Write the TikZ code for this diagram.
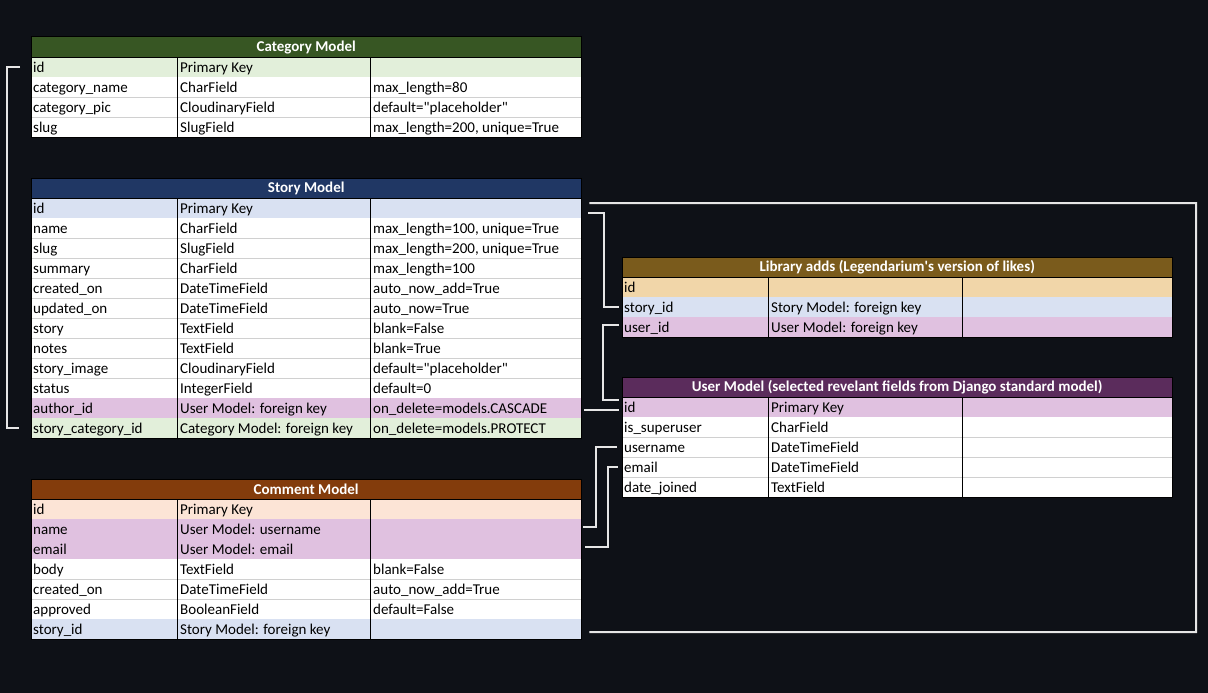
\documentclass[tikz,border=0pt]{standalone}
\usepackage{fontspec}
\setmainfont{Carlito}
\usepackage{tikz}
\usetikzlibrary{calc, positioning}

\definecolor{bg}{HTML}{0E1117}
\definecolor{linkwhite}{HTML}{E6E6E6}
\definecolor{gridgray}{HTML}{D0D0D0}
\definecolor{catdark}{HTML}{375623}
\definecolor{catlight}{HTML}{E2EFDA}
\definecolor{stdark}{HTML}{203764}
\definecolor{stlight}{HTML}{D9E1F2}
\definecolor{cmdark}{HTML}{833C0C}
\definecolor{cmlight}{HTML}{FCE4D6}
\definecolor{libdark}{HTML}{7A5B1C}
\definecolor{liblight}{HTML}{F1D6A9}
\definecolor{usdark}{HTML}{5B2C5C}
\definecolor{purp}{HTML}{E0C1E0}

\tikzset{
    head/.style={anchor=north west, minimum width=550pt, minimum height=20pt, inner sep=0pt,
        text=white, font=\fontsize{15}{17}\selectfont\bfseries},
    row/.style={anchor=north west, minimum width=550pt, minimum height=20pt, inner sep=0pt},
    cell/.style={anchor=base west, inner sep=0pt, font=\fontsize{15}{17}\selectfont},
    frame/.style={draw=black, line width=1pt},
    gridline/.style={draw=gridgray, line width=.8pt},
    link/.style={draw=linkwhite, line width=2pt},
}

\begin{document}
\begin{tikzpicture}[x=1pt, y=-1pt]
    % 背景
    \fill[bg] (0,0) rectangle (1208,693);

    % Category Model
    \node[head, fill=catdark] (cat) at (31,37) {Category Model};
    \foreach \key/\col/\ta/\tb/\tc [count=\i from 0] in {
        id/catlight/id/Primary Key/{},
        name/white/category\_name/CharField/max\_length=80,
        pic/white/category\_pic/CloudinaryField/default=\textquotedbl placeholder\textquotedbl{},
        slug/white/slug/SlugField/{max\_length=200, unique=True}} {
        \node[row, fill=\col] (cat-\key) at (31,57+20*\i) {};
        \node[cell] (cat-\key-a) at ($(cat-\key.south west)+(2,-5)$) {\ta};
        \node[cell] (cat-\key-b) at ($(cat-\key.south west)+(149,-5)$) {\tb};
        \node[cell] (cat-\key-c) at ($(cat-\key.south west)+(342,-5)$) {\tc};
    }
    \foreach \key in {name,pic} {
        \draw[gridline] (cat-\key.south west) -- (cat-\key.south east);
    }
    \draw[frame] (cat.north west) rectangle (cat-slug.south east);
    \draw[frame] (cat.south west) -- (cat.south east);
    \foreach \dx in {146,339} {
        \draw[frame] ([xshift=\dx]cat.south west) -- ([xshift=\dx]cat-slug.south west);
    }

    % Story Model
    \node[head, fill=stdark] (st) at (31,178) {Story Model};
    \foreach \key/\col/\ta/\tb/\tc [count=\i from 0] in {
        id/stlight/id/Primary Key/{},
        name/white/name/CharField/{max\_length=100, unique=True},
        slug/white/slug/SlugField/{max\_length=200, unique=True},
        summary/white/summary/CharField/max\_length=100,
        created/white/created\_on/DateTimeField/auto\_now\_add=True,
        updated/white/updated\_on/DateTimeField/auto\_now=True,
        story/white/story/TextField/blank=False,
        notes/white/notes/TextField/blank=True,
        image/white/story\_image/CloudinaryField/default=\textquotedbl placeholder\textquotedbl{},
        status/white/status/IntegerField/default=0,
        author/purp/author\_id/User Model: foreign key/on\_delete=models.CASCADE,
        catid/catlight/story\_category\_id/Category Model: foreign key/on\_delete=models.PROTECT} {
        \node[row, fill=\col] (st-\key) at (31,198+20*\i) {};
        \node[cell] (st-\key-a) at ($(st-\key.south west)+(2,-5)$) {\ta};
        \node[cell] (st-\key-b) at ($(st-\key.south west)+(149,-5)$) {\tb};
        \node[cell] (st-\key-c) at ($(st-\key.south west)+(342,-5)$) {\tc};
    }
    \foreach \key in {name,slug,summary,created,updated,story,notes,image} {
        \draw[gridline] (st-\key.south west) -- (st-\key.south east);
    }
    \draw[frame] (st.north west) rectangle (st-catid.south east);
    \draw[frame] (st.south west) -- (st.south east);
    \foreach \dx in {146,339} {
        \draw[frame] ([xshift=\dx]st.south west) -- ([xshift=\dx]st-catid.south west);
    }

    % Comment Model
    \node[head, fill=cmdark] (cm) at (31,479) {Comment Model};
    \foreach \key/\col/\ta/\tb/\tc [count=\i from 0] in {
        id/cmlight/id/Primary Key/{},
        name/purp/name/User Model: username/{},
        email/purp/email/User Model: email/{},
        body/white/body/TextField/blank=False,
        created/white/created\_on/DateTimeField/auto\_now\_add=True,
        approved/white/approved/BooleanField/default=False,
        story/stlight/story\_id/Story Model: foreign key/{}} {
        \node[row, fill=\col] (cm-\key) at (31,499+20*\i) {};
        \node[cell] (cm-\key-a) at ($(cm-\key.south west)+(2,-5)$) {\ta};
        \node[cell] (cm-\key-b) at ($(cm-\key.south west)+(149,-5)$) {\tb};
        \node[cell] (cm-\key-c) at ($(cm-\key.south west)+(342,-5)$) {\tc};
    }
    \foreach \key in {body,created} {
        \draw[gridline] (cm-\key.south west) -- (cm-\key.south east);
    }
    \draw[frame] (cm.north west) rectangle (cm-story.south east);
    \draw[frame] (cm.south west) -- (cm.south east);
    \foreach \dx in {146,339} {
        \draw[frame] ([xshift=\dx]cm.south west) -- ([xshift=\dx]cm-story.south west);
    }

    % Library adds
    \node[head, fill=libdark] (lib) at (622,257) {Library adds (Legendarium\textquotesingle s version of likes)};
    \foreach \key/\col/\ta/\tb/\tc [count=\i from 0] in {
        id/liblight/id/{}/{},
        story/stlight/story\_id/Story Model: foreign key/{},
        user/purp/user\_id/User Model: foreign key/{}} {
        \node[row, fill=\col] (lib-\key) at (622,277+20*\i) {};
        \node[cell] (lib-\key-a) at ($(lib-\key.south west)+(2,-5)$) {\ta};
        \node[cell] (lib-\key-b) at ($(lib-\key.south west)+(149,-5)$) {\tb};
        \node[cell] (lib-\key-c) at ($(lib-\key.south west)+(343,-5)$) {\tc};
    }
    \draw[frame] (lib.north west) rectangle (lib-user.south east);
    \draw[frame] (lib.south west) -- (lib.south east);
    \foreach \dx in {146,340} {
        \draw[frame] ([xshift=\dx]lib.south west) -- ([xshift=\dx]lib-user.south west);
    }

    % User Model
    \node[head, fill=usdark] (us) at (622,377) {User Model (selected revelant fields from Django standard model)};
    \foreach \key/\col/\ta/\tb/\tc [count=\i from 0] in {
        id/purp/id/Primary Key/{},
        super/white/is\_superuser/CharField/{},
        user/white/username/DateTimeField/{},
        email/white/email/DateTimeField/{},
        joined/white/date\_joined/TextField/{}} {
        \node[row, fill=\col] (us-\key) at (622,397+20*\i) {};
        \node[cell] (us-\key-a) at ($(us-\key.south west)+(2,-5)$) {\ta};
        \node[cell] (us-\key-b) at ($(us-\key.south west)+(149,-5)$) {\tb};
        \node[cell] (us-\key-c) at ($(us-\key.south west)+(343,-5)$) {\tc};
    }
    \foreach \key in {super,user,email} {
        \draw[gridline] (us-\key.south west) -- (us-\key.south east);
    }
    \draw[frame] (us.north west) rectangle (us-joined.south east);
    \draw[frame] (us.south west) -- (us.south east);
    \foreach \dx in {146,340} {
        \draw[frame] ([xshift=\dx]us.south west) -- ([xshift=\dx]us-joined.south west);
    }

    % 接続線の描画
    \coordinate (loopr) at (1196,203);
    \draw[link] ([xshift=-11]cat-id.west) -- ++(-13,0) |- ([xshift=-12]st-catid.west);
    \draw[link] ([xshift=7,yshift=-5]st-id.east) -- ++(16,0) |- ([xshift=-3]lib-story.west);
    \draw[link] ([xshift=8,yshift=5]st-id.east) -- (loopr) |- ([xshift=8,yshift=-3]cm-story.east);
    \draw[link] ([xshift=-3,yshift=2]lib-user.west) -- ++(-16,0) |- ([xshift=-3,yshift=7]us-id.west);
    \draw[link] ([xshift=3,yshift=-2]st-author.east) -- ([xshift=-3,yshift=-3]us-id.west);
    \draw[link] ([xshift=2,yshift=2]cm-name.east) -- ++(13,0) |- ([xshift=-5]us-user.west);
    \draw[link] ([xshift=4,yshift=2]cm-email.east) -- ++(23,0) |- ([xshift=-4]us-email.west);
\end{tikzpicture}
\end{document}
